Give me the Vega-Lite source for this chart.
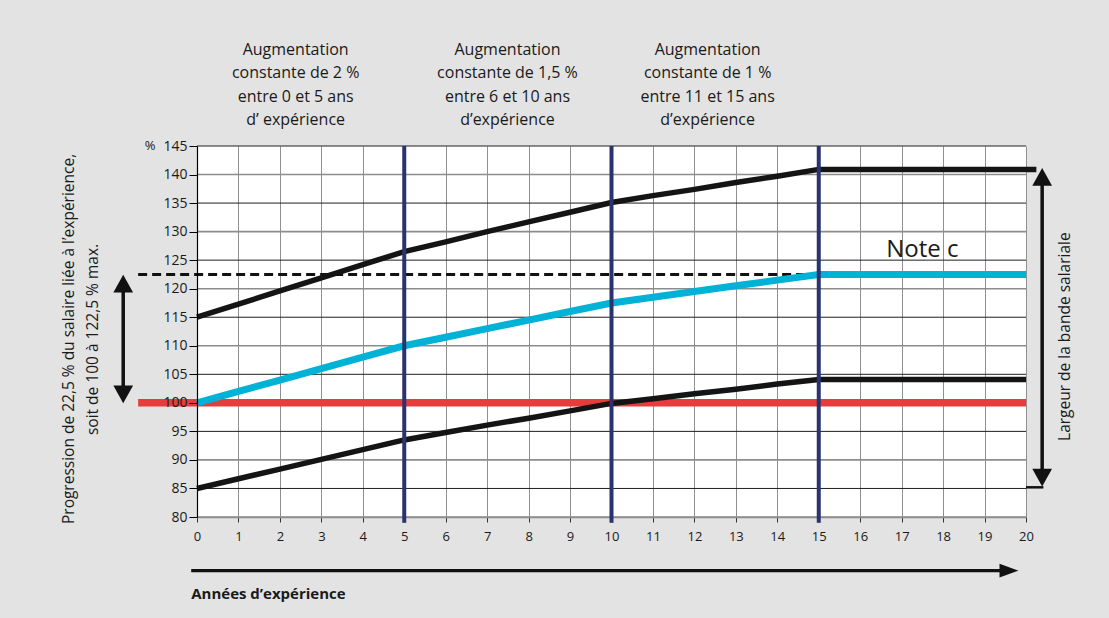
{
  "$schema": "https://vega.github.io/schema/vega-lite/v6.json",
  "width": 829,
  "height": 371,
  "autosize": {"type": "none"},
  "padding": {"left": 197, "top": 146, "right": 83, "bottom": 101},
  "background": "#e3e3e3",
  "config": {
    "view": {"fill": "white", "stroke": null},
    "font": "Open Sans",
    "text": {"font": "Open Sans", "color": "#1a1a1a"}
  },
  "datasets": {
    "bands": [
      {"x": 0, "y": 115, "s": "haut"}, {"x": 1, "y": 117.3, "s": "haut"}, {"x": 2, "y": 119.6, "s": "haut"}, {"x": 3, "y": 121.9, "s": "haut"}, {"x": 4, "y": 124.2, "s": "haut"}, {"x": 5, "y": 126.5, "s": "haut"}, {"x": 6, "y": 128.2, "s": "haut"}, {"x": 7, "y": 130.0, "s": "haut"}, {"x": 8, "y": 131.7, "s": "haut"}, {"x": 9, "y": 133.4, "s": "haut"}, {"x": 10, "y": 135.1, "s": "haut"}, {"x": 11, "y": 136.3, "s": "haut"}, {"x": 12, "y": 137.4, "s": "haut"}, {"x": 13, "y": 138.6, "s": "haut"}, {"x": 14, "y": 139.7, "s": "haut"}, {"x": 15, "y": 140.9, "s": "haut"}, {"x": 16, "y": 140.9, "s": "haut"}, {"x": 17, "y": 140.9, "s": "haut"}, {"x": 18, "y": 140.9, "s": "haut"}, {"x": 19, "y": 140.9, "s": "haut"}, {"x": 20.25, "y": 140.9, "s": "haut"},
      {"x": 0, "y": 85, "s": "bas"}, {"x": 1, "y": 86.7, "s": "bas"}, {"x": 2, "y": 88.4, "s": "bas"}, {"x": 3, "y": 90.1, "s": "bas"}, {"x": 4, "y": 91.8, "s": "bas"}, {"x": 5, "y": 93.5, "s": "bas"}, {"x": 6, "y": 94.8, "s": "bas"}, {"x": 7, "y": 96.1, "s": "bas"}, {"x": 8, "y": 97.3, "s": "bas"}, {"x": 9, "y": 98.6, "s": "bas"}, {"x": 10, "y": 99.9, "s": "bas"}, {"x": 11, "y": 100.7, "s": "bas"}, {"x": 12, "y": 101.6, "s": "bas"}, {"x": 13, "y": 102.4, "s": "bas"}, {"x": 14, "y": 103.3, "s": "bas"}, {"x": 15, "y": 104.1, "s": "bas"}, {"x": 16, "y": 104.1, "s": "bas"}, {"x": 17, "y": 104.1, "s": "bas"}, {"x": 18, "y": 104.1, "s": "bas"}, {"x": 19, "y": 104.1, "s": "bas"}, {"x": 20, "y": 104.1, "s": "bas"}
    ],
    "mid": [
      {"x": 0, "y": 100}, {"x": 1, "y": 102}, {"x": 2, "y": 104}, {"x": 3, "y": 106}, {"x": 4, "y": 108}, {"x": 5, "y": 110}, {"x": 6, "y": 111.5}, {"x": 7, "y": 113}, {"x": 8, "y": 114.5}, {"x": 9, "y": 116}, {"x": 10, "y": 117.5}, {"x": 11, "y": 118.5}, {"x": 12, "y": 119.5}, {"x": 13, "y": 120.5}, {"x": 14, "y": 121.5}, {"x": 15, "y": 122.5}, {"x": 16, "y": 122.5}, {"x": 17, "y": 122.5}, {"x": 18, "y": 122.5}, {"x": 19, "y": 122.5}, {"x": 20, "y": 122.5}
    ],
    "hgrid": [
      {"x": 0, "x2": 20, "y": 80}, {"x": 0, "x2": 20, "y": 85}, {"x": 0, "x2": 20, "y": 90}, {"x": 0, "x2": 20, "y": 95}, {"x": 0, "x2": 20, "y": 100}, {"x": 0, "x2": 20, "y": 105}, {"x": 0, "x2": 20, "y": 110}, {"x": 0, "x2": 20, "y": 115}, {"x": 0, "x2": 20, "y": 120}, {"x": 0, "x2": 20, "y": 125}, {"x": 0, "x2": 20, "y": 130}, {"x": 0, "x2": 20, "y": 135}, {"x": 0, "x2": 20, "y": 140}, {"x": 0, "x2": 20, "y": 145}
    ],
    "hrules": [
      {"k": "ref", "x": -1.42, "x2": 20, "y": 100},
      {"k": "dash", "x": -1.42, "x2": 15, "y": 122.5},
      {"k": "bracket", "x": 20.0, "x2": 20.42, "y": 85.2},
      {"k": "axisarrow", "x": -0.14, "x2": 19.5, "y": 70.6}
    ],
    "vrules": [
      {"k": "phase", "x": 5, "y": 145, "y2": 79},
      {"k": "phase", "x": 10, "y": 145, "y2": 79},
      {"k": "phase", "x": 15, "y": 145, "y2": 79},
      {"k": "arrow", "x": -1.78, "y": 102, "y2": 120.5},
      {"k": "arrow", "x": 20.39, "y": 87.5, "y2": 139}
    ],
    "heads": [
      {"k": "up", "x": -1.78, "y": 120.9},
      {"k": "down", "x": -1.78, "y": 101.5},
      {"k": "up", "x": 20.39, "y": 139.6},
      {"k": "down", "x": 20.39, "y": 86.9},
      {"k": "right", "x": 19.59, "y": 70.6}
    ],
    "labels": [
      {"k": "bloc", "x": 2.38, "y": 161.0, "t": "Augmentation\nconstante de 2 %\nentre 0 et 5 ans\nd’ expérience"},
      {"k": "bloc", "x": 7.49, "y": 161.0, "t": "Augmentation\nconstante de 1,5 %\nentre 6 et 10 ans\nd’expérience"},
      {"k": "bloc", "x": 12.32, "y": 161.0, "t": "Augmentation\nconstante de 1 %\nentre 11 et 15 ans\nd’expérience"},
      {"k": "note", "x": 17.5, "y": 125.6, "t": "Note c"},
      {"k": "pct", "x": -1.13, "y": 145, "t": "%"},
      {"k": "vert", "x": 20.95, "y": 111.6, "t": "Largeur de la bande salariale"},
      {"k": "vert", "x": -3.08, "y": 111.2, "t": "Progression de 22,5 % du salaire liée à l’expérience,"},
      {"k": "vert", "x": -2.5, "y": 111.1, "t": "soit de 100 à 122,5 % max."},
      {"k": "xtitle", "x": -0.14, "y": 65.55, "t": "Années d’expérience"}
    ]
  },
  "encoding": {
    "x": {
      "field": "x", "type": "quantitative", "title": null,
      "scale": {"domain": [0, 20], "nice": false, "zero": false},
      "axis": {
        "values": [0,1,2,3,4,5,6,7,8,9,10,11,12,13,14,15,16,17,18,19,20],
        "grid": true, "gridColor": "#909090", "gridWidth": 1,
        "domainColor": "#8c8c8c", "domainWidth": 1.6,
        "tickColor": "#333333", "tickSize": 5, "tickWidth": 1,
        "labelFont": "Open Sans", "labelFontSize": 13, "labelColor": "#1a1a1a",
        "labelPadding": 8, "labelOverlap": false, "labelFlush": false, "zindex": 0
      }
    },
    "y": {
      "field": "y", "type": "quantitative", "title": null,
      "scale": {"domain": [80, 145], "nice": false, "zero": false},
      "axis": {
        "values": [80,85,90,95,100,105,110,115,120,125,130,135,140,145],
        "grid": false, "domainColor": "#000000", "domainWidth": 1.2,
        "tickColor": "#000000", "tickSize": 8, "tickWidth": 1,
        "labelFont": "Open Sans", "labelFontSize": 14, "labelColor": "#1a1a1a",
        "labelPadding": 2, "labelOverlap": false, "labelFlush": false, "zindex": 1
      }
    }
  },
  "layer": [
    {
      "data": {"name": "hgrid"},
      "mark": {"type": "rule", "clip": false},
      "encoding": {
        "x2": {"field": "x2"},
        "color": {"condition": {"test": "datum.y % 10 === 0", "value": "#8c8c8c"}, "value": "#1e1e1e"},
        "strokeWidth": {"condition": {"test": "datum.y % 10 === 0", "value": 1.6}, "value": 1}
      }
    },
    {
      "data": {"name": "hrules"},
      "transform": [{"filter": "datum.k === 'ref'"}],
      "mark": {"type": "rule", "color": "#e63c3c", "strokeWidth": 7.5, "clip": false},
      "encoding": {"x2": {"field": "x2"}}
    },
    {
      "data": {"name": "hrules"},
      "transform": [{"filter": "datum.k === 'dash'"}],
      "mark": {"type": "rule", "color": "#111111", "strokeWidth": 3, "strokeDash": [9, 5], "clip": false},
      "encoding": {"x2": {"field": "x2"}}
    },
    {
      "data": {"name": "mid"},
      "mark": {"type": "line", "color": "#00b2d6", "strokeWidth": 7, "clip": false},
      "encoding": {}
    },
    {
      "data": {"name": "bands"},
      "mark": {"type": "line", "color": "#141414", "strokeWidth": 5.5, "clip": false},
      "encoding": {"detail": {"field": "s", "type": "nominal"}}
    },
    {
      "data": {"name": "vrules"},
      "transform": [{"filter": "datum.k === 'phase'"}],
      "mark": {"type": "rule", "color": "#2a3370", "strokeWidth": 4, "clip": false},
      "encoding": {"y2": {"field": "y2"}}
    },
    {
      "data": {"name": "vrules"},
      "transform": [{"filter": "datum.k === 'arrow'"}],
      "mark": {"type": "rule", "color": "#111111", "strokeWidth": 3.5, "clip": false},
      "encoding": {"y2": {"field": "y2"}}
    },
    {
      "data": {"name": "hrules"},
      "transform": [{"filter": "datum.k === 'bracket'"}],
      "mark": {"type": "rule", "color": "#111111", "strokeWidth": 2.5, "clip": false},
      "encoding": {"x2": {"field": "x2"}}
    },
    {
      "data": {"name": "hrules"},
      "transform": [{"filter": "datum.k === 'axisarrow'"}],
      "mark": {"type": "rule", "color": "#111111", "strokeWidth": 3.2, "clip": false},
      "encoding": {"x2": {"field": "x2"}}
    },
    {
      "data": {"name": "heads"},
      "transform": [{"filter": "datum.k === 'up'"}],
      "mark": {"type": "point", "shape": "M-1,0.9L1,0.9L0,-0.9Z", "size": 390, "filled": true, "color": "#111111", "opacity": 1, "clip": false},
      "encoding": {}
    },
    {
      "data": {"name": "heads"},
      "transform": [{"filter": "datum.k === 'down'"}],
      "mark": {"type": "point", "shape": "M-1,-0.9L1,-0.9L0,0.9Z", "size": 390, "filled": true, "color": "#111111", "opacity": 1, "clip": false},
      "encoding": {}
    },
    {
      "data": {"name": "heads"},
      "transform": [{"filter": "datum.k === 'right'"}],
      "mark": {"type": "point", "shape": "M-1,-0.72L1,0L-1,0.72Z", "size": 361, "filled": true, "color": "#111111", "opacity": 1, "clip": false},
      "encoding": {}
    },
    {
      "data": {"name": "labels"},
      "transform": [{"filter": "datum.k === 'bloc'"}],
      "mark": {"type": "text", "fontSize": 16, "lineHeight": 23.5, "lineBreak": "\n", "align": "center", "baseline": "alphabetic", "clip": false},
      "encoding": {"text": {"field": "t", "type": "nominal"}}
    },
    {
      "data": {"name": "labels"},
      "transform": [{"filter": "datum.k === 'note'"}],
      "mark": {"type": "text", "fontSize": 24, "align": "center", "baseline": "alphabetic", "clip": false},
      "encoding": {"text": {"field": "t", "type": "nominal"}}
    },
    {
      "data": {"name": "labels"},
      "transform": [{"filter": "datum.k === 'pct'"}],
      "mark": {"type": "text", "fontSize": 13, "align": "center", "baseline": "middle", "clip": false},
      "encoding": {"text": {"field": "t", "type": "nominal"}}
    },
    {
      "data": {"name": "labels"},
      "transform": [{"filter": "datum.k === 'vert'"}],
      "mark": {"type": "text", "fontSize": 15.5, "angle": 270, "align": "center", "baseline": "middle", "clip": false},
      "encoding": {"text": {"field": "t", "type": "nominal"}}
    },
    {
      "data": {"name": "labels"},
      "transform": [{"filter": "datum.k === 'xtitle'"}],
      "mark": {"type": "text", "fontSize": 15, "fontWeight": "bold", "align": "left", "baseline": "alphabetic", "clip": false},
      "encoding": {"text": {"field": "t", "type": "nominal"}}
    }
  ]
}
